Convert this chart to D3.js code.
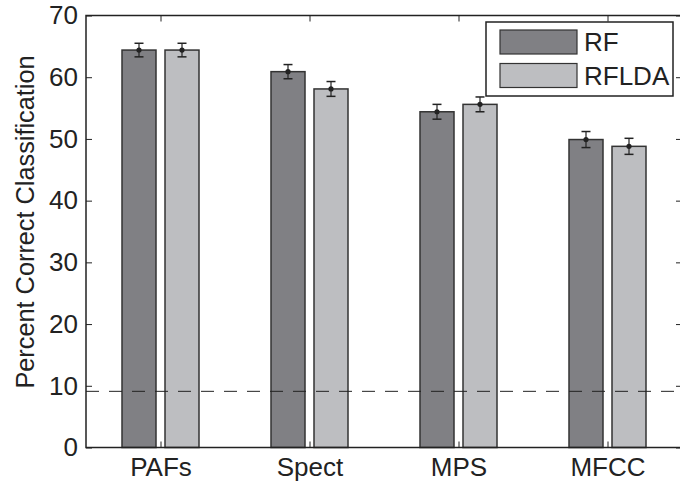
<html lang="en">
<head>
<script src="https://d3js.org/d3.v7.min.js"></script>
<style>
  body { margin: 0; background: white; }
  text { font-family: "Liberation Sans", Arial, sans-serif; fill: #222; }
</style>
</head>
<body>
<script>
// data
var categories = ["PAFs", "Spect", "MPS", "MFCC"];
var series = ["RF", "RFLDA"];
var rfValues = [64.4, 60.9, 54.4, 49.9];
var rfErrors = [1.1, 1.15, 1.2, 1.3];
var rfldaValues = [64.4, 58.1, 55.6, 48.8];
var rfldaErrors = [1.1, 1.2, 1.2, 1.3];
var chanceLevel = 9.1;
var yTicks = [0, 10, 20, 30, 40, 50, 60, 70];

var colors = ["#808084", "#bdbec1"];

var width = 680, height = 484;
var margin = {left: 86, right: -2, top: 15.5, bottom: 36.5};
var fontSize = 26;

var svg = d3.select("body").append("svg")
    .attr("width", width)
    .attr("height", height);

var x = d3.scaleLinear()
    .domain([0.5, categories.length + 0.5])
    .range([margin.left, width - margin.right]);

var y = d3.scaleLinear()
    .domain([0, 70])
    .range([height - margin.bottom, margin.top]);

var barWidth = 34;
var offset = 21.5;

var rows = categories.map(function(c, i) {
  return [
    {cat: i + 1, s: 0, v: rfValues[i], e: rfErrors[i]},
    {cat: i + 1, s: 1, v: rfldaValues[i], e: rfldaErrors[i]}
  ];
}).flat();

// bars
svg.selectAll("rect.bar")
  .data(rows)
  .enter().append("rect")
  .attr("class", "bar")
  .attr("x", function(d) { return x(d.cat) + (d.s === 0 ? -offset : offset) - barWidth / 2; })
  .attr("y", function(d) { return y(d.v); })
  .attr("width", barWidth)
  .attr("height", function(d) { return y(0) - y(d.v); })
  .attr("fill", function(d) { return colors[d.s]; })
  .attr("stroke", "#333")
  .attr("stroke-width", 1.5);

// error bars
var eb = svg.selectAll("g.err")
  .data(rows)
  .enter().append("g")
  .attr("class", "err")
  .attr("transform", function(d) {
    return "translate(" + (x(d.cat) + (d.s === 0 ? -offset : offset)) + ",0)";
  });
eb.append("line")
  .attr("y1", function(d) { return y(d.v + d.e); })
  .attr("y2", function(d) { return y(d.v - d.e); })
  .attr("stroke", "#222").attr("stroke-width", 1.2);
eb.append("line")
  .attr("x1", -4.5).attr("x2", 4.5)
  .attr("y1", function(d) { return y(d.v + d.e); })
  .attr("y2", function(d) { return y(d.v + d.e); })
  .attr("stroke", "#222").attr("stroke-width", 1.5);
eb.append("line")
  .attr("x1", -4.5).attr("x2", 4.5)
  .attr("y1", function(d) { return y(d.v - d.e); })
  .attr("y2", function(d) { return y(d.v - d.e); })
  .attr("stroke", "#222").attr("stroke-width", 1.5);
eb.append("circle")
  .attr("cy", function(d) { return y(d.v); })
  .attr("r", 2.6)
  .attr("fill", "#222");

// chance line
svg.append("line")
  .attr("x1", x(0.5)).attr("x2", x(categories.length + 0.5))
  .attr("y1", y(chanceLevel)).attr("y2", y(chanceLevel))
  .attr("stroke", "#222")
  .attr("stroke-width", 1)
  .attr("stroke-dasharray", "13,10");

// frame
svg.append("rect")
  .attr("x", x(0.5)).attr("y", y(70))
  .attr("width", x(categories.length + 0.5) - x(0.5))
  .attr("height", y(0) - y(70))
  .attr("fill", "none")
  .attr("stroke", "#222")
  .attr("stroke-width", 1.5);

// y axis
var yAxis = svg.append("g")
  .attr("transform", "translate(" + x(0.5) + ",0)")
  .call(d3.axisLeft(y).tickValues(yTicks).tickSize(-6).tickPadding(8));
yAxis.select(".domain").remove();
yAxis.selectAll("line").attr("stroke", "#222");
yAxis.selectAll("text").attr("font-size", fontSize).attr("font-family", "Liberation Sans, Arial, sans-serif").attr("fill", "#222");

// right ticks
var yAxisR = svg.append("g")
  .attr("transform", "translate(" + x(categories.length + 0.5) + ",0)")
  .call(d3.axisRight(y).tickValues(yTicks).tickSize(-6).tickFormat(""));
yAxisR.select(".domain").remove();
yAxisR.selectAll("line").attr("stroke", "#222");

// x axis
var xAxis = svg.append("g")
  .attr("transform", "translate(0," + y(0) + ")")
  .call(d3.axisBottom(x).tickValues([1, 2, 3, 4]).tickSize(-6).tickPadding(10)
    .tickFormat(function(d) { return categories[d - 1]; }));
xAxis.select(".domain").remove();
xAxis.selectAll("line").attr("stroke", "#222");
xAxis.selectAll("text").attr("font-size", fontSize).attr("font-family", "Liberation Sans, Arial, sans-serif").attr("fill", "#222");

// top ticks
var xAxisT = svg.append("g")
  .attr("transform", "translate(0," + y(70) + ")")
  .call(d3.axisTop(x).tickValues([1, 2, 3, 4]).tickSize(-6).tickFormat(""));
xAxisT.select(".domain").remove();
xAxisT.selectAll("line").attr("stroke", "#222");

// y label
svg.append("text")
  .attr("transform", "translate(34,222) rotate(-90)")
  .attr("text-anchor", "middle")
  .attr("font-size", 25.3)
  .text("Percent Correct Classification");

// legend
var legend = svg.append("g");
legend.append("rect")
  .attr("x", 486).attr("y", 22)
  .attr("width", 187).attr("height", 74)
  .attr("fill", "white")
  .attr("stroke", "#222").attr("stroke-width", 1.5);
series.forEach(function(s, i) {
  legend.append("rect")
    .attr("x", 500).attr("y", 30 + i * 33.5)
    .attr("width", 77).attr("height", 24)
    .attr("fill", colors[i])
    .attr("stroke", "#333").attr("stroke-width", 1.2);
  legend.append("text")
    .attr("x", 584).attr("y", 51 + i * 33.5)
    .attr("font-size", fontSize)
    .text(s);
});
</script>
</body>
</html>
